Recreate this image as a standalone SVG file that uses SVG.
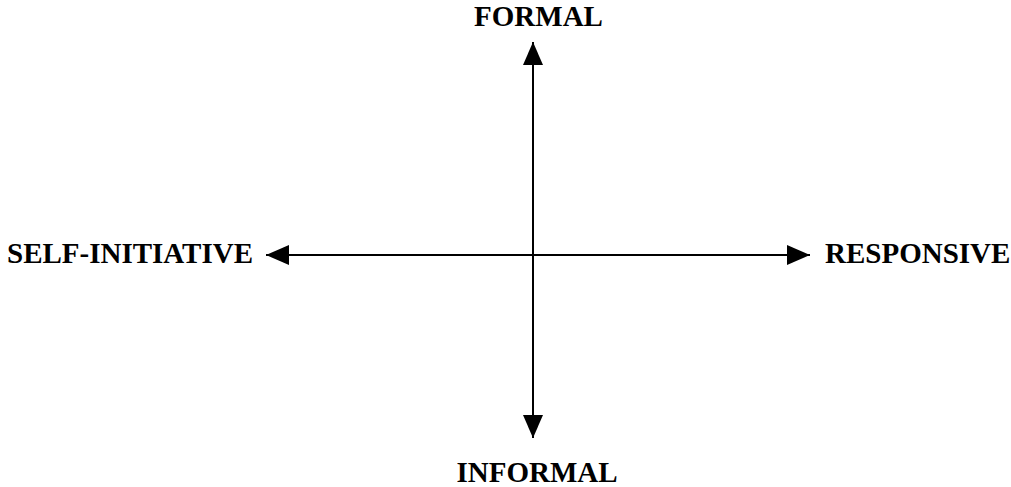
<svg xmlns="http://www.w3.org/2000/svg" width="1011" height="487" viewBox="0 0 1011 487">
<style>
text{font-family:"Liberation Serif","Times New Roman",serif;font-weight:bold;font-size:29px;fill:#000}
.ax{stroke:#000;stroke-width:2;fill:none}
</style>
<defs>
<marker id="ah" viewBox="0 0 23 20" refX="23" refY="10" markerWidth="23" markerHeight="20" markerUnits="userSpaceOnUse" orient="auto">
<path d="M0,0 L23,10 L0,20 Z" fill="#000"/>
</marker>
</defs>
<rect width="1011" height="487" fill="#fff"/>
<g id="connectors">
<line class="ax" x1="533" y1="255" x2="533" y2="42" marker-end="url(#ah)"/>
<line class="ax" x1="533" y1="255" x2="533" y2="438" marker-end="url(#ah)"/>
<line class="ax" x1="533" y1="255" x2="266" y2="255" marker-end="url(#ah)"/>
<line class="ax" x1="533" y1="255" x2="810" y2="255" marker-end="url(#ah)"/>
</g>
<g id="formal"><text x="538.5" y="26" text-anchor="middle">FORMAL</text></g>
<g id="informal"><text x="537" y="482" text-anchor="middle">INFORMAL</text></g>
<g id="self-initiative"><text x="7" y="263">SELF-INITIATIVE</text></g>
<g id="responsive"><text x="825" y="263">RESPONSIVE</text></g>
</svg>
